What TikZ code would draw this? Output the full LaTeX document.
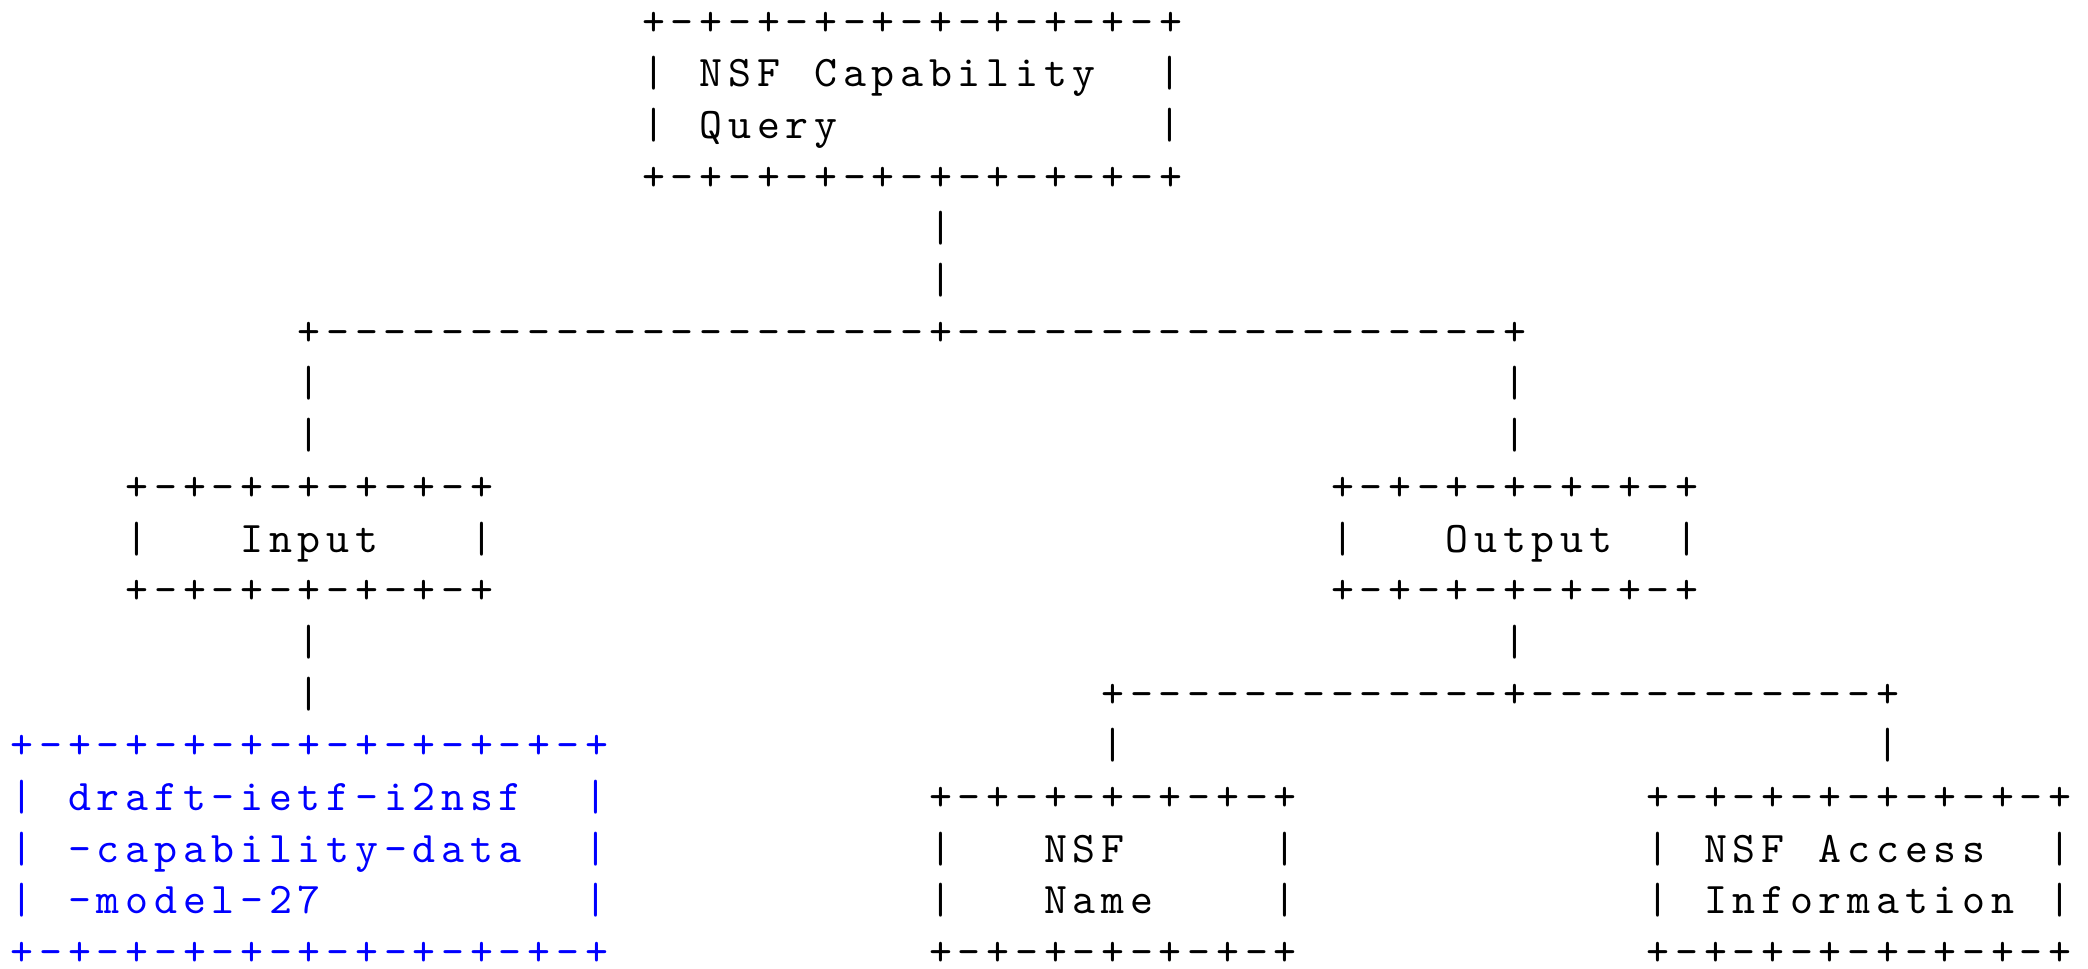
\documentclass[tikz,border=0pt]{standalone}
\usepackage{fontspec}
\usepackage{xcolor}
\usepackage{tikz}

% typewriter face, spaced out to a 0.6em pitch
\newfontfamily\asciitt[LetterSpace=13.2]{lmmono10-regular.otf}

\begin{document}
\begin{tikzpicture}[x=14.35pt, y=-25.85pt,
    asc/.style={anchor=base west, inner sep=0pt, xshift=1.44pt,
                font=\asciitt\fontsize{21.85pt}{26pt}\selectfont},
    ref/.style={asc, text=blue}]
     \useasboundingbox (-0.265,-0.677) rectangle (72.49,18.066);

     % top box
     \node[asc] (qt) at (22,0) {+-+-+-+-+-+-+-+-+-+};
     \node[asc] (ql1) at (22,1) {|};
     \node[asc] (qa) at (24,1) {NSF};
     \node[asc] (qb) at (28,1) {Capability};
     \node[asc] (qr1) at (40,1) {|};
     \node[asc] (ql2) at (22,2) {|};
     \node[asc] (qc) at (24,2) {Query};
     \node[asc] (qr2) at (40,2) {|};
     \node[asc] (qbot) at (22,3) {+-+-+-+-+-+-+-+-+-+};
     \node[asc] (v1) at (32,4) {|};
     \node[asc] (v2) at (32,5) {|};

     % first branch
     \node[asc] (b1l) at (10,6) {+};
     \node[asc] (b1m) at (32,6) {+};
     \node[asc] (b1r) at (52,6) {+};
     \foreach \c in {11,...,31,33,34,...,51}
          \node[asc] (d1-\c) at (\c,6) {-};
     \node[asc] (v3) at (10,7) {|};
     \node[asc] (v4) at (10,8) {|};
     \node[asc] (v5) at (52,7) {|};
     \node[asc] (v6) at (52,8) {|};

     % input / output
     \node[asc] (it) at (4,9) {+-+-+-+-+-+-+};
     \node[asc] (il) at (4,10) {|};
     \node[asc] (in) at (8,10) {Input};
     \node[asc] (ir) at (16,10) {|};
     \node[asc] (ib) at (4,11) {+-+-+-+-+-+-+};
     \node[asc] (ot) at (46,9) {+-+-+-+-+-+-+};
     \node[asc] (ol) at (46,10) {|};
     \node[asc] (out) at (50,10) {Output};
     \node[asc] (or) at (58,10) {|};
     \node[asc] (ob) at (46,11) {+-+-+-+-+-+-+};
     \node[asc] (v7) at (10,12) {|};
     \node[asc] (v8) at (10,13) {|};
     \node[asc] (v9) at (52,12) {|};

     % second branch
     \node[asc] (b2l) at (38,13) {+};
     \node[asc] (b2m) at (52,13) {+};
     \node[asc] (b2r) at (65,13) {+};
     \foreach \c in {39,...,51,53,54,...,64}
          \node[asc] (d2-\c) at (\c,13) {-};
     \node[asc] (v10) at (38,14) {|};
     \node[asc] (v11) at (65,14) {|};

     % referenced draft
     \node[ref] (rt) at (0,14) {+-+-+-+-+-+-+-+-+-+-+};
     \node[ref] (rl1) at (0,15) {|};
     \node[ref] (ra) at (2,15) {draft-ietf-i2nsf};
     \node[ref] (rr1) at (20,15) {|};
     \node[ref] (rl2) at (0,16) {|};
     \node[ref] (rb) at (2,16) {-capability-data};
     \node[ref] (rr2) at (20,16) {|};
     \node[ref] (rl3) at (0,17) {|};
     \node[ref] (rc) at (2,17) {-model-27};
     \node[ref] (rr3) at (20,17) {|};
     \node[ref] (rbot) at (0,18) {+-+-+-+-+-+-+-+-+-+-+};

     % nsf name
     \node[asc] (nt) at (32,15) {+-+-+-+-+-+-+};
     \node[asc] (nl1) at (32,16) {|};
     \node[asc] (na) at (36,16) {NSF};
     \node[asc] (nr1) at (44,16) {|};
     \node[asc] (nl2) at (32,17) {|};
     \node[asc] (nb) at (36,17) {Name};
     \node[asc] (nr2) at (44,17) {|};
     \node[asc] (nbot) at (32,18) {+-+-+-+-+-+-+};

     % nsf access information
     \node[asc] (at) at (57,15) {+-+-+-+-+-+-+-+};
     \node[asc] (al1) at (57,16) {|};
     \node[asc] (aa) at (59,16) {NSF};
     \node[asc] (ab) at (63,16) {Access};
     \node[asc] (ar1) at (71,16) {|};
     \node[asc] (al2) at (57,17) {|};
     \node[asc] (ac) at (59,17) {Information};
     \node[asc] (ar2) at (71,17) {|};
     \node[asc] (abot) at (57,18) {+-+-+-+-+-+-+-+};
\end{tikzpicture}
\end{document}
